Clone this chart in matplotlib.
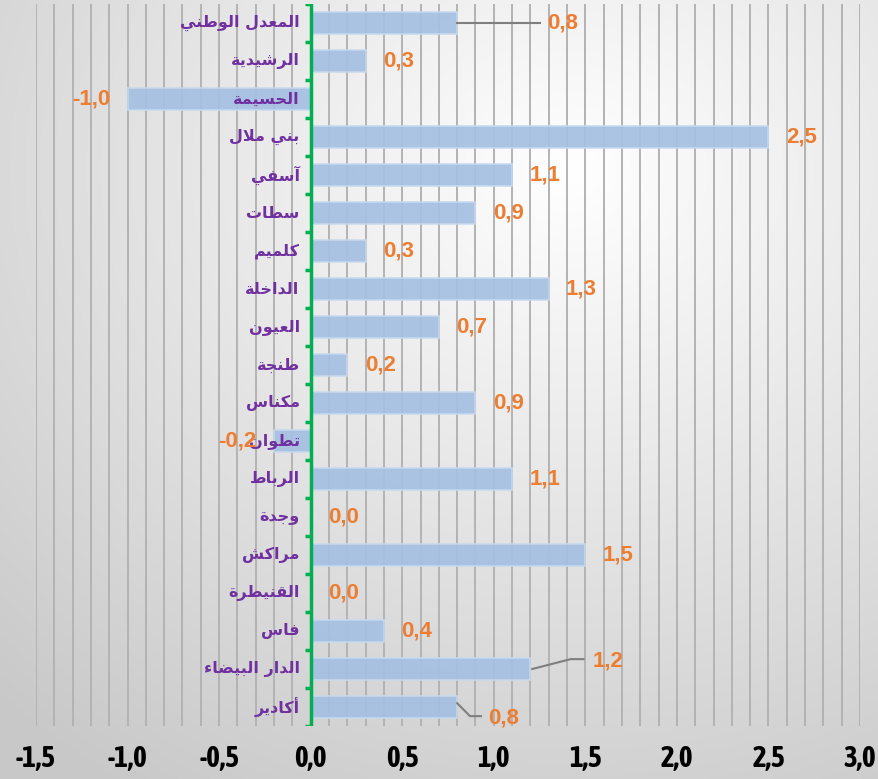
import numpy as np
import matplotlib
matplotlib.use("Agg")
import matplotlib.pyplot as plt
from matplotlib import font_manager

# ----------------------------------------------------------------------
# Data (top to bottom as in the chart)
# ----------------------------------------------------------------------
cities = ["المعدل الوطني", "الرشيدية", "الحسيمة", "بني ملال", "آسفي", "سطات",
          "كلميم", "الداخلة", "العيون", "طنجة", "مكناس", "تطوان", "الرباط",
          "وجدة", "مراكش", "القنيطرة", "فاس", "الدار البيضاء", "أكادير"]
values = [0.8, 0.3, -1.0, 2.5, 1.1, 0.9, 0.3, 1.3, 0.7, 0.2, 0.9, -0.2, 1.1,
          0.0, 1.5, 0.0, 0.4, 1.2, 0.8]
x_ticks = [-1.5, -1.0, -0.5, 0.0, 0.5, 1.0, 1.5, 2.0, 2.5, 3.0]

BAR_COLOR = "#a5c0e2"
LABEL_COLOR = "#ed7d31"
CITY_COLOR = "#7030a0"
AXIS_GREEN = "#00b050"

# ----------------------------------------------------------------------
# Minimal Arabic shaping (matplotlib has no bidi / joining support)
# ----------------------------------------------------------------------
FORMS = {
    "ء": ("\uFE80",),
    "آ": ("\uFE81", "\uFE82"),
    "أ": ("\uFE83", "\uFE84"),
    "ا": ("\uFE8D", "\uFE8E"),
    "ب": ("\uFE8F", "\uFE90", "\uFE91", "\uFE92"),
    "ة": ("\uFE93", "\uFE94"),
    "ت": ("\uFE95", "\uFE96", "\uFE97", "\uFE98"),
    "ج": ("\uFE9D", "\uFE9E", "\uFE9F", "\uFEA0"),
    "ح": ("\uFEA1", "\uFEA2", "\uFEA3", "\uFEA4"),
    "خ": ("\uFEA5", "\uFEA6", "\uFEA7", "\uFEA8"),
    "د": ("\uFEA9", "\uFEAA"),
    "ر": ("\uFEAD", "\uFEAE"),
    "س": ("\uFEB1", "\uFEB2", "\uFEB3", "\uFEB4"),
    "ش": ("\uFEB5", "\uFEB6", "\uFEB7", "\uFEB8"),
    "ض": ("\uFEBD", "\uFEBE", "\uFEBF", "\uFEC0"),
    "ط": ("\uFEC1", "\uFEC2", "\uFEC3", "\uFEC4"),
    "ع": ("\uFEC9", "\uFECA", "\uFECB", "\uFECC"),
    "ف": ("\uFED1", "\uFED2", "\uFED3", "\uFED4"),
    "ق": ("\uFED5", "\uFED6", "\uFED7", "\uFED8"),
    "ك": ("\uFED9", "\uFEDA", "\uFEDB", "\uFEDC"),
    "ل": ("\uFEDD", "\uFEDE", "\uFEDF", "\uFEE0"),
    "م": ("\uFEE1", "\uFEE2", "\uFEE3", "\uFEE4"),
    "ن": ("\uFEE5", "\uFEE6", "\uFEE7", "\uFEE8"),
    "و": ("\uFEED", "\uFEEE"),
    "ي": ("\uFEF1", "\uFEF2", "\uFEF3", "\uFEF4"),
    "لا": ("\uFEFB", "\uFEFC"),
    "لأ": ("\uFEF7", "\uFEF8"),
    "لآ": ("\uFEF5", "\uFEF6"),
}


def shape_arabic(text):
    tokens = []
    i = 0
    while i < len(text):
        pair = text[i:i + 2]
        if pair in FORMS and len(pair) == 2:
            tokens.append(pair)
            i += 2
        else:
            tokens.append(text[i])
            i += 1

    def joins_next(t):
        return t in FORMS and len(FORMS[t]) == 4

    def joins_prev(t):
        return t in FORMS and len(FORMS[t]) >= 2

    out = []
    for k, t in enumerate(tokens):
        if t not in FORMS:
            out.append(t)
            continue
        prev_ok = k > 0 and joins_next(tokens[k - 1]) and joins_prev(t)
        next_ok = k + 1 < len(tokens) and joins_next(t) and joins_prev(tokens[k + 1])
        f = FORMS[t]
        if prev_ok and next_ok:
            out.append(f[3])
        elif prev_ok:
            out.append(f[1])
        elif next_ok:
            out.append(f[2])
        else:
            out.append(f[0])
    return "".join(reversed(out))


def fmt(v):
    return f"{v:.1f}".replace(".", ",")


# pick a narrow bold face for the axis numbers if one is installed
narrow_family = "Liberation Sans"
for f in font_manager.fontManager.ttflist:
    if ("Narrow" in f.name or "Condensed" in f.name) and f.weight in ("bold", 700):
        narrow_family = f.name
        break

# ----------------------------------------------------------------------
# Figure
# ----------------------------------------------------------------------
fig = plt.figure(figsize=(8.79, 7.79), dpi=100)

# background: soft radial gradient
bg = fig.add_axes([0, 0, 1, 1], zorder=-10)
gx, gy = np.meshgrid(np.linspace(0, 1, 300), np.linspace(0, 1, 300))
dist = np.sqrt(((gx - 0.65) / 0.75) ** 2 + ((gy - 0.78) / 0.75) ** 2)
shade = 1.0 - 0.17 * np.clip(dist, 0, 1.25)
bg.imshow(np.dstack([shade] * 3), extent=[0, 1, 0, 1], origin="lower", aspect="auto")
bg.axis("off")

ax = fig.add_axes([36 / 879, 53 / 779, 824 / 879, 722 / 779])
ax.set_facecolor("none")

y_pos = np.arange(len(cities))

# vertical grid every 0.1
for gxv in np.arange(-15, 31) / 10:
    ax.axvline(gxv, color="#b3b3b3", lw=1.4, zorder=1)

ax.barh(y_pos, values, height=0.57, color=BAR_COLOR, edgecolor="#c8d9ee",
        linewidth=1.2, alpha=0.92, zorder=2)

# green vertical axis with outward ticks at category boundaries
ax.axvline(0, color=AXIS_GREEN, lw=2.5, zorder=4)
for b in np.arange(len(cities) + 1) - 0.5:
    ax.plot([-0.03, 0], [b, b], color=AXIS_GREEN, lw=2.5, zorder=4,
            solid_capstyle="butt")

# category names
for y, name in zip(y_pos, cities):
    ax.text(-0.06, y, shape_arabic(name), ha="right", va="center",
            fontsize=11.5, fontweight="bold", color=CITY_COLOR,
            family="DejaVu Sans", zorder=5)

# value labels
label_font = dict(fontsize=16, fontweight="bold", color=LABEL_COLOR,
                  family="Liberation Sans", zorder=5)
for y, v in zip(y_pos, values):
    name = cities[y]
    if name == "المعدل الوطني":
        ax.plot([v, 1.25], [y, y], color="#7f7f7f", lw=1.5, zorder=3)
        ax.text(1.29, y, fmt(v), ha="left", va="center", **label_font)
    elif name == "الدار البيضاء":
        ax.plot([v + 0.01, 1.42, 1.49], [y, y - 0.26, y - 0.26],
                color="#7f7f7f", lw=1.5, zorder=3)
        ax.text(1.54, y - 0.22, fmt(v), ha="left", va="center", **label_font)
    elif name == "أكادير":
        ax.plot([v, 0.87, 0.93], [y - 0.1, y + 0.24, y + 0.24],
                color="#7f7f7f", lw=1.5, zorder=3)
        ax.text(0.97, y + 0.3, fmt(v), ha="left", va="center", **label_font)
    elif v < 0:
        ax.text(v - 0.095, y, fmt(v), ha="right", va="center", **label_font)
    else:
        ax.text(v + 0.095, y, fmt(v), ha="left", va="center", **label_font)

ax.set_xlim(-1.5, 3.0)
ax.set_ylim(len(cities) - 0.5, -0.5)
ax.set_yticks([])
ax.set_xticks(x_ticks)
ax.set_xticklabels([fmt(t) for t in x_ticks], fontsize=21, fontweight="bold",
                   family=narrow_family)
ax.tick_params(axis="x", length=0, pad=13)
for s in ax.spines.values():
    s.set_visible(False)

fig.savefig("out.png", dpi=100)
